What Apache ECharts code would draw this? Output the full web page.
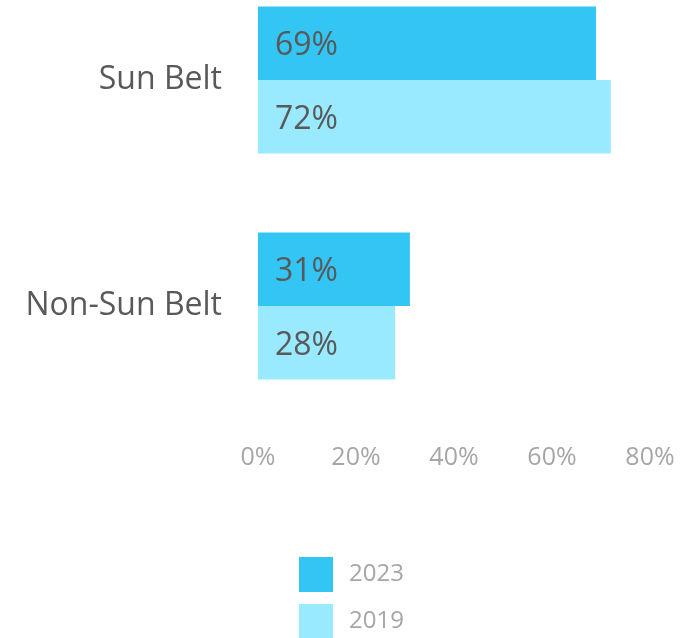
<!DOCTYPE html>
<html>
<head>
<meta charset="utf-8">
<script src="https://cdn.jsdelivr.net/npm/echarts@6/dist/echarts.min.js"></script>
<style>html,body{margin:0;padding:0;background:#fff;}#c{width:700px;height:638px;}</style>
</head>
<body>
<div id="c"></div>
<script>
var categories = ['Sun Belt', 'Non-Sun Belt'];
var seriesNames = ['2023', '2019'];
var values2023 = [69, 31];
var values2019 = [72, 28];
var xTicks = [0, 20, 40, 60, 80];

var chart = echarts.init(document.getElementById('c'));
var font = '"Open Sans", "Noto Sans", sans-serif';
var labelStyle = {
  show: true, position: 'insideLeft', distance: 17, offset: [0, 3],
  formatter: '{c}%', color: '#595959', fontSize: 32, fontFamily: font
};
chart.setOption({
  animation: false,
  grid: { left: 258, width: 392, top: -33, height: 452, containLabel: false, outerBoundsMode: 'none' },
  xAxis: {
    type: 'value', min: xTicks[0], max: xTicks[xTicks.length - 1], interval: 20,
    axisLine: { show: false }, axisTick: { show: false }, splitLine: { show: false },
    axisLabel: { formatter: '{value}%', color: '#A6A6A6', fontSize: 25, fontFamily: font, margin: 26 }
  },
  yAxis: {
    type: 'category', data: categories, inverse: true,
    axisLine: { show: false }, axisTick: { show: false },
    axisLabel: { color: '#595959', fontSize: 32, fontFamily: font, margin: 36 }
  },
  legend: {
    orient: 'vertical', left: 299, top: 557, height: 120, padding: 0, itemWidth: 34, itemHeight: 35, itemGap: 12,
    icon: 'rect', data: seriesNames,
    textStyle: { color: '#A6A6A6', fontSize: 24, fontFamily: font, padding: [5, 0, 0, 11] }
  },
  series: [
    { name: seriesNames[0], type: 'bar', data: values2023, barGap: '0%', barCategoryGap: '35%',
      itemStyle: { color: '#33C5F3' }, label: labelStyle },
    { name: seriesNames[1], type: 'bar', data: values2019, barGap: '0%', barCategoryGap: '35%',
      itemStyle: { color: '#99E9FF' }, label: labelStyle }
  ]
});
</script>
</body>
</html>
